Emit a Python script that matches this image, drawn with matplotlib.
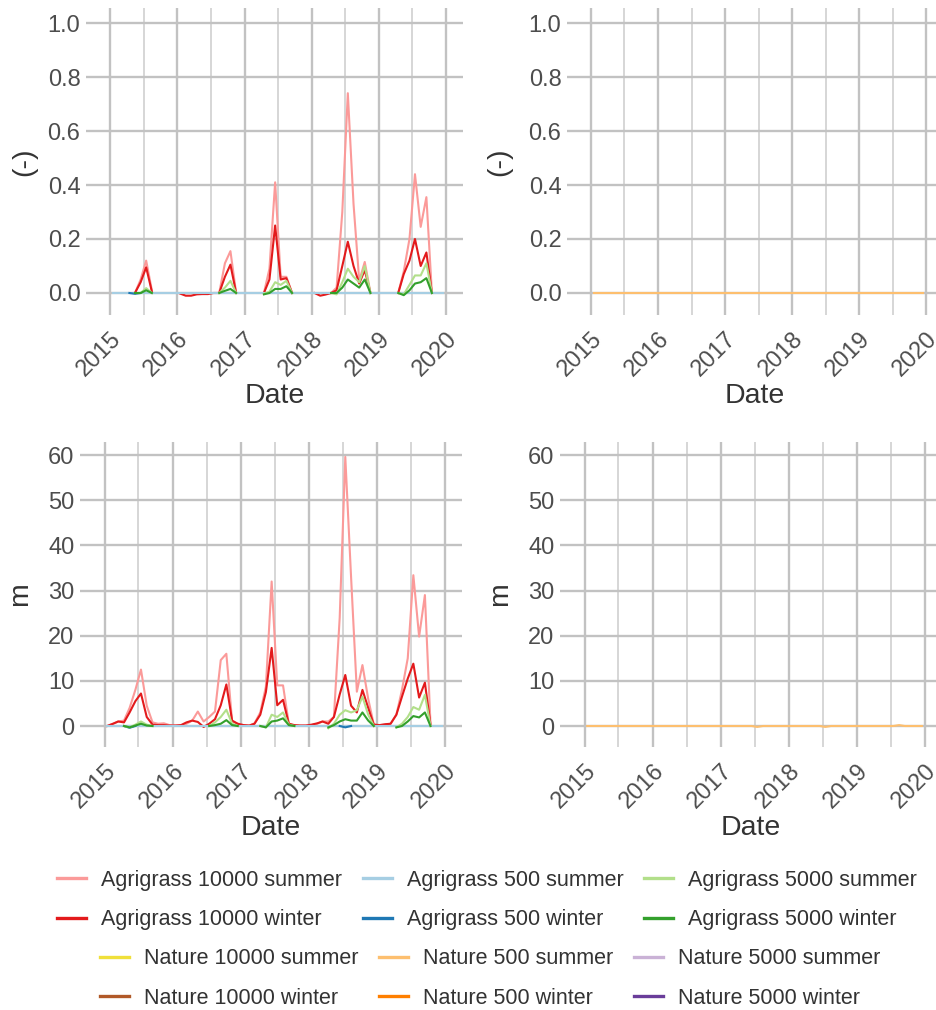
import numpy as np
import pandas as pd
import matplotlib
matplotlib.use("Agg")
import matplotlib.pyplot as plt
import matplotlib.dates as mdates
from matplotlib.lines import Line2D
from datetime import datetime

plt.rcParams['font.family'] = ['Liberation Sans', 'DejaVu Sans']

n = np.nan

# mid-month dates, Jan 2015 - Dec 2019
dates = pd.date_range("2015-01-01", "2019-12-01", freq="MS") + pd.Timedelta(days=14)

# ---------------- top row: (-) ----------------
ag10000_summer_frac = [
    n, n, n, n, 0, 0.05, 0.12, 0.01, n, n, n, n,
    n, n, n, n, n, n, n, 0, 0.11, 0.155, 0, n,
    n, n, n, 0, 0.09, 0.41, 0.06, 0.06, 0, n, n, n,
    n, n, n, 0, 0.02, 0.30, 0.74, 0.33, 0.045, 0.115, 0, n,
    n, n, n, 0, 0.08, 0.20, 0.44, 0.245, 0.355, 0, n, n,
]
ag10000_winter_frac = [
    n, n, n, n, 0, 0.04, 0.095, 0.005, n, n, n, n,
    -0.002, -0.01, -0.01, -0.005, -0.004, -0.004, 0, 0, 0.06, 0.105, 0, n,
    n, n, n, 0, 0.05, 0.25, 0.05, 0.055, 0, n, n, n,
    0, -0.01, -0.006, 0, 0.01, 0.10, 0.19, 0.10, 0.035, 0.085, 0, n,
    n, n, n, 0, 0.07, 0.12, 0.20, 0.10, 0.15, 0, n, n,
]
ag500_summer_frac = [0] * 60
ag500_winter_frac = [
    n, n, n, 0, -0.003, 0, n, n, n, n, n, n,
] + [n] * 48
ag5000_summer_frac = [
    n, n, n, n, 0, 0, 0.018, 0, n, n, n, n,
    n, n, n, n, n, n, n, 0, 0.02, 0.045, 0, n,
    n, n, n, -0.003, 0.005, 0.04, 0.03, 0.045, 0, n, n, n,
    n, n, n, 0, -0.005, 0.04, 0.09, 0.06, 0.04, 0.10, 0, n,
    n, n, n, 0, -0.005, 0.03, 0.065, 0.065, 0.11, 0, n, n,
]
ag5000_winter_frac = [
    n, n, n, n, 0, 0, 0.01, 0, n, n, n, n,
    n, n, n, n, n, n, n, 0, 0.008, 0.015, 0, n,
    n, n, n, -0.005, 0, 0.015, 0.015, 0.025, 0, n, n, n,
    n, n, n, 0, 0, 0.02, 0.05, 0.035, 0.02, 0.05, 0, n,
    n, n, n, 0, -0.008, 0.01, 0.035, 0.04, 0.055, 0, n, n,
]
nat500_summer_frac = [0] * 60

# ---------------- bottom row: m ----------------
ag10000_summer_m = [
    0, 0.5, 1.0, 1.2, 4, 8, 12.5, 4.5, 0.8, 0.5, 0.6, 0.2,
    0.1, 0.1, 0.5, 1.2, 3.2, 1.0, 2.0, 3.2, 14.6, 16.0, 1.0, 0.5,
    0.2, 0.1, 0.6, 3, 8.7, 32, 9, 9, 0.5, 0.1, 0.1, 0.1,
    0.2, 0.5, 1.0, 1.0, 2, 24, 59.6, 33, 7.6, 13.5, 6, 0.3,
    0.2, 0.3, 0.5, 2.5, 8, 15, 33.4, 19.8, 29, 0.5, n, n,
]
ag10000_winter_m = [
    0, 0.5, 1.0, 0.8, 3, 5.5, 7.2, 2.0, 0.3, 0.2, 0.2, 0.1,
    0.1, 0.2, 0.8, 1.2, 0.9, -0.2, 0.5, 1.5, 4.6, 9.2, 1.2, 0.5,
    0.2, 0.1, 0.5, 2.5, 7.5, 17.3, 4.6, 5.8, 0.5, 0.2, 0.1, 0.1,
    0.3, 0.6, 1.0, 0.5, 2, 7, 11.3, 4.5, 3.0, 8.0, 4.0, 0.3,
    0.2, 0.4, 0.5, 2.5, 6.5, 10.5, 13.8, 6.3, 9.6, 0.3, n, n,
]
ag500_summer_m = [0] * 60
ag500_winter_m = [
    n, n, n, 0, -0.4, 0, n, n, n, n, n, n,
    n, n, n, n, n, n, n, n, n, n, n, n,
    n, n, n, n, n, n, n, n, n, n, n, n,
    n, n, n, n, n, 0, -0.3, 0, n, n, n, n,
    n, n, n, n, n, n, n, n, n, n, n, n,
]
ag5000_summer_m = [
    n, n, n, 0, -0.3, 0.3, 1.0, 0.3, 0, n, n, n,
    n, n, n, n, n, n, 0, 0.8, 2.0, 3.6, 0.5, 0,
    n, n, n, 0, -0.3, 2.5, 2.0, 3.0, 0.3, 0, n, n,
    n, n, n, -0.5, 0.5, 2.5, 3.5, 3.0, 3.5, 6.5, 2.5, 0,
    n, n, n, -0.3, 0.5, 2, 4.2, 3.6, 6.9, 0, n, n,
]
ag5000_winter_m = [
    n, n, n, 0, -0.3, 0.1, 0.5, 0.1, 0, n, n, n,
    n, n, n, n, n, n, 0, 0.2, 0.5, 1.3, 0.2, 0,
    n, n, n, 0, -0.3, 1.0, 1.2, 1.7, 0.2, 0, n, n,
    n, n, n, -0.3, 0.2, 1.0, 1.5, 1.2, 1.2, 3.0, 1.2, 0,
    n, n, n, -0.3, 0, 1.0, 2.2, 1.9, 3.0, 0, n, n,
]
nat500_summer_m = [0] * 30 + [-0.2] + [0] * 11 + [-0.2] + [0] * 12 + [0.2] + [0] * 4

# legend labels & colours (Paired palette)
ag_labels = ["Agrigrass 10000 summer", "Agrigrass 10000 winter",
             "Agrigrass 500 summer", "Agrigrass 500 winter",
             "Agrigrass 5000 summer", "Agrigrass 5000 winter"]
ag_colors = ["#FB9A99", "#E31A1C", "#A6CEE3", "#1F78B4", "#B2DF8A", "#33A02C"]
nat_labels = ["Nature 10000 summer", "Nature 10000 winter",
              "Nature 500 summer", "Nature 500 winter",
              "Nature 5000 summer", "Nature 5000 winter"]
nat_colors = ["#F0E03A", "#B15928", "#FDBF6F", "#FF7F00", "#CAB2D6", "#6A3D9A"]

ag_frac = [ag10000_summer_frac, ag10000_winter_frac, ag500_summer_frac,
           ag500_winter_frac, ag5000_summer_frac, ag5000_winter_frac]
ag_m = [ag10000_summer_m, ag10000_winter_m, ag500_summer_m,
        ag500_winter_m, ag5000_summer_m, ag5000_winter_m]

GRID = "#C2C2C2"
GRID_MINOR = "#CFCFCF"
TXT = "#4D4D4D"

fig = plt.figure(figsize=(9.37, 10.1), dpi=100)

# axes positions in pixels: left, top, right, bottom
W, H = 937, 1010
boxes = {
    "tl": (86, 8, 463, 315),
    "tr": (567, 8, 943, 315),
    "bl": (80, 442, 462, 747),
    "br": (560, 442, 942, 747),
}


def make_ax(key):
    l, t, r, b = boxes[key]
    return fig.add_axes([l / W, 1 - b / H, (r - l) / W, (b - t) / H])


def style(ax, ylabel, ylim, yticks, fmt, ylab_x):
    ax.set_xlim(datetime(2014, 8, 22), datetime(2020, 4, 1))
    ax.set_ylim(*ylim)
    ax.set_yticks(yticks)
    ax.set_yticklabels([fmt.format(v) for v in yticks])
    ax.xaxis.set_major_locator(mdates.YearLocator())
    ax.xaxis.set_major_formatter(mdates.DateFormatter("%Y"))
    ax.xaxis.set_minor_locator(mdates.MonthLocator(bymonth=7))
    ax.grid(True, which="major", color=GRID, linewidth=1.7)
    ax.grid(True, which="minor", axis="x", color=GRID_MINOR, linewidth=1.2)
    ax.set_axisbelow(True)
    for s in ax.spines.values():
        s.set_visible(False)
    ax.tick_params(which="both", length=0, colors=TXT, labelsize=17)
    ax.tick_params(axis="y", pad=4)
    ax.tick_params(axis="x", pad=9)
    for lab in ax.get_xticklabels():
        lab.set_rotation(45)
        lab.set_ha("right")
        lab.set_va("top")
        lab.set_rotation_mode("anchor")
    ax.set_xlabel("Date", fontsize=20.5, color="#333333")
    ax.xaxis.set_label_coords(0.5, -0.222)
    ax.set_ylabel(ylabel, fontsize=20.5, color="#333333")
    ax.yaxis.set_label_coords(ylab_x, 0.5)


ax_tl = make_ax("tl")
for vals, c in zip(ag_frac, ag_colors):
    ax_tl.plot(dates, vals, color=c, linewidth=1.5)
style(ax_tl, "(-)", (-0.0815, 1.0556), [0, 0.2, 0.4, 0.6, 0.8, 1.0], "{:.1f}", -0.13)

ax_tr = make_ax("tr")
ax_tr.plot(dates, nat500_summer_frac, color=nat_colors[2], linewidth=1.5)
style(ax_tr, "(-)", (-0.0815, 1.0556), [0, 0.2, 0.4, 0.6, 0.8, 1.0], "{:.1f}", -0.146)

ax_bl = make_ax("bl")
for vals, c in zip(ag_m, ag_colors):
    ax_bl.plot(dates, vals, color=c, linewidth=1.5)
style(ax_bl, "m", (-4.65, 62.9), [0, 10, 20, 30, 40, 50, 60], "{:.0f}", -0.123)

ax_br = make_ax("br")
ax_br.plot(dates, nat500_summer_m, color=nat_colors[2], linewidth=1.5)
style(ax_br, "m", (-4.65, 62.9), [0, 10, 20, 30, 40, 50, 60], "{:.0f}", -0.123)

# legends (two blocks, centered)
leg_kw = dict(ncol=3, frameon=False, fontsize=15.5, handlelength=1.35,
              handletextpad=0.7, columnspacing=0.95, labelspacing=0.85,
              labelcolor="#333333", borderaxespad=0)
ag_handles = [Line2D([], [], color=c, linewidth=2.4) for c in ag_colors]
nat_handles = [Line2D([], [], color=c, linewidth=2.4) for c in nat_colors]
fig.legend(ag_handles, ag_labels, loc="center",
           bbox_to_anchor=(0.520, 1 - 900 / H), **leg_kw)
fig.legend(nat_handles, nat_labels, loc="center",
           bbox_to_anchor=(0.523, 1 - 978.5 / H), **leg_kw)

fig.savefig("out.png", dpi=100)
